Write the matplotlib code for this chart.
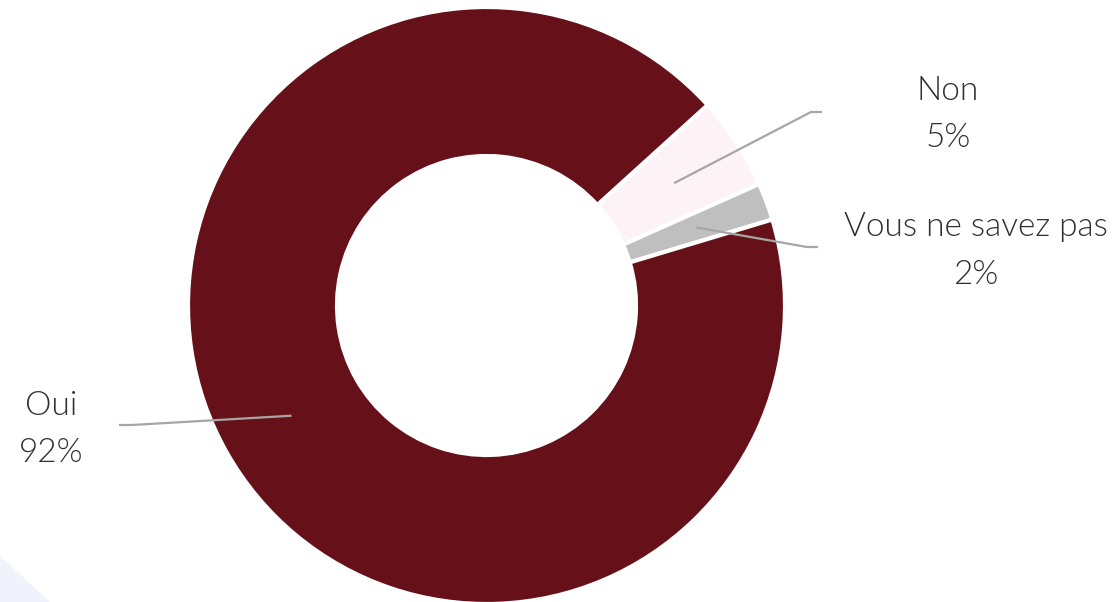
import matplotlib
matplotlib.use("Agg")
import matplotlib.pyplot as plt
import numpy as np
from matplotlib.patches import Polygon

categories = ["Non", "Vous ne savez pas", "Oui"]
values = [5, 2, 92]
pct_labels = ["5%", "2%", "92%"]
colors = ["#fdf3f6", "#bfbfbf", "#661119"]

W, H = 1120, 602
fig = plt.figure(figsize=(W / 100, H / 100), dpi=100)
ax = fig.add_axes([0, 0, 1, 1])

def Y(y):
    return H - y

cx, cy = 486.5, Y(305.5)
R_out, R_in = 298.5, 149.5

# decorative corner triangle
ax.add_patch(Polygon([(0, Y(556)), (0, Y(602)), (50, Y(602))], closed=True,
                     facecolor="#f0f3fb", edgecolor="none", zorder=0))

start = 42.2
wedges, _ = ax.pie(values, colors=colors, startangle=start, counterclock=False,
                   radius=R_out, center=(cx, cy),
                   wedgeprops=dict(width=R_out - R_in, edgecolor="white", linewidth=3))
ax.set_xlim(0, W)
ax.set_ylim(0, H)
ax.set_aspect("equal")
ax.axis("off")

layout = {
    "Non": dict(elbow=(811, 112), end=(822, 112), tx=948, ty1=91, ty2=138),
    "Vous ne savez pas": dict(elbow=(807, 247), end=(818, 247), tx=976, ty1=227, ty2=275),
    "Oui": dict(elbow=(132, 425), end=(119, 425), tx=51, ty1=406, ty2=453),
}

font = dict(family=["Lato", "DejaVu Sans"], weight=300, color="#303030")
r_mid = (R_out - 1.5 + R_in + 1.5) / 2
for w, cat, pct in zip(wedges, categories, pct_labels):
    mid = np.deg2rad((w.theta1 + w.theta2) / 2)
    x0 = cx + r_mid * np.cos(mid)
    y0 = cy + r_mid * np.sin(mid)
    L = layout[cat]
    ex, ey = L["elbow"]
    fx, fy = L["end"]
    ax.plot([x0, ex, fx], [y0, Y(ey), Y(fy)], color="#a6a6a6", lw=1.6,
            solid_capstyle="butt", zorder=5)
    ax.text(L["tx"], Y(L["ty1"]), cat, ha="center", va="center", fontsize=24, **font)
    ax.text(L["tx"], Y(L["ty2"]), pct, ha="center", va="center", fontsize=24, **font)

fig.savefig("out.png", dpi=100, facecolor="white")
